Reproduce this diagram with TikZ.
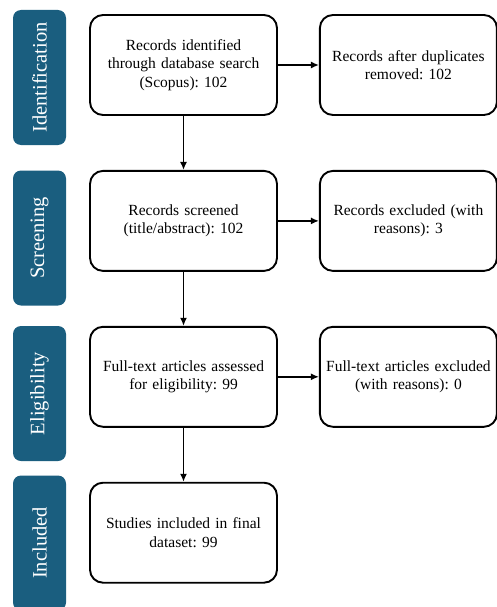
\documentclass[tikz,border=0pt]{standalone}
\usepackage{fontspec}
\setmainfont{Liberation Serif}
\usetikzlibrary{arrows.meta,positioning}
\definecolor{stagebar}{HTML}{1A5E7F}
\frenchspacing

\begin{document}
\begin{tikzpicture}[
  x=1pt,y=1pt,
  node distance=54pt and 41pt,
  stepbox/.style={draw=black,fill=white,rounded corners=13pt,line width=1.9pt,minimum width=187pt,minimum height=100pt,text width=175pt,align=center,font=\fontsize{15.5pt}{18.6pt}\selectfont},
  sidebox/.style={stepbox,minimum width=177pt,text width=168pt},
  stage/.style={fill=stagebar,rounded corners=8pt,rotate=90,minimum width=135pt,minimum height=53pt,inner sep=0pt,text=white,font=\fontsize{20.5pt}{24pt}\selectfont},
  arrow/.style={-{Latex[length=8pt,width=7pt]},line width=1.5pt}
]
\clip (0,0) rectangle (497,-607);
\node[stepbox] (ident) at (183.5,-65) {Records identified\\through database search\\(Scopus): 102};
\node[stepbox,below=of ident] (screen) {Records screened\\(title/abstract): 102};
\node[stepbox,below=of screen] (elig) {Full-text articles assessed\\for eligibility: 99};
\node[stepbox,below=of elig] (incl) {Studies included in final\\dataset: 99};
\node[sidebox,right=of ident] (dupl) {Records after duplicates\\removed: 102};
\node[sidebox,right=of screen] (excl) {Records excluded (with\\reasons): 3};
\node[sidebox,right=of elig] (fexcl) {Full-text articles excluded\\(with reasons): 0};
\node[stage] (sident) at (39.5,-77.5) {Identification};
\node[stage] (sscreen) at (39.5,-238) {Screening};
\node[stage] (selig) at (39.5,-393.5) {Eligibility};
\node[stage] (sincl) at (39.5,-543) {Included};
\draw[arrow] (ident) -- (screen);
\draw[arrow] (screen) -- (elig);
\draw[arrow] (elig) -- (incl);
\draw[arrow] (ident) -- (dupl);
\draw[arrow] (screen) -- (excl);
\draw[arrow] (elig) -- (fexcl);
\end{tikzpicture}
\end{document}
